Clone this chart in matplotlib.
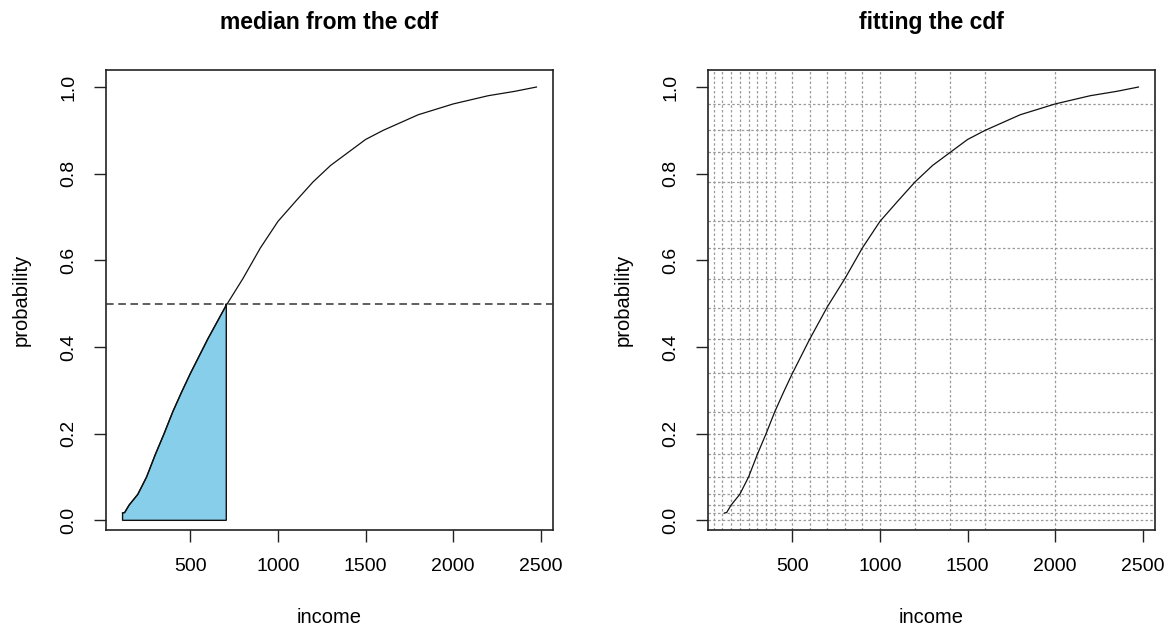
import numpy as np
import matplotlib
matplotlib.use('Agg')
from matplotlib import pyplot as plt

plt.rcParams['font.family'] = ['Liberation Sans', 'DejaVu Sans']

# fitted cdf curve
income = [113, 125, 150, 200, 250, 300, 350, 400, 450, 500, 600, 700, 800, 900,
          1000, 1100, 1200, 1300, 1400, 1500, 1600, 1800, 2000, 2200, 2350, 2475]
prob = [0.017, 0.018, 0.035, 0.060, 0.100, 0.152, 0.200, 0.251, 0.296, 0.339,
        0.419, 0.493, 0.558, 0.629, 0.690, 0.736, 0.781, 0.819, 0.849, 0.879,
        0.900, 0.936, 0.961, 0.980, 0.990, 1.000]

# median of the distribution
median_income = 705
median_prob = 0.5

# table breaks and cumulative probabilities (grid in the right panel)
breaks = [50, 100, 150, 200, 250, 300, 350, 400, 500, 600, 700, 800, 900, 1000,
          1200, 1400, 1600, 2000]
cum_prob = [0.0, 0.0176, 0.035, 0.060, 0.100, 0.152, 0.200, 0.251, 0.339, 0.419,
            0.490, 0.558, 0.629, 0.690, 0.781, 0.849, 0.900, 0.961]

x_ticks = [500, 1000, 1500, 2000, 2500]
y_ticks = [0.0, 0.2, 0.4, 0.6, 0.8, 1.0]


def r_limits(vals):
    lo, hi = min(vals), max(vals)
    pad = 0.04 * (hi - lo)
    return lo - pad, hi + pad


def style_axes(ax, title):
    ax.set_xlim(*r_limits(income))
    ax.set_ylim(*r_limits(prob))
    ax.set_xticks(x_ticks)
    ax.set_yticks(y_ticks)
    ax.set_yticklabels(['%.1f' % v for v in y_ticks], rotation=90, va='center')
    ax.tick_params(axis='both', direction='out', length=8.5, width=1.0,
                   labelsize=14, color='#222222')
    ax.tick_params(axis='x', pad=12)
    ax.tick_params(axis='y', pad=12)
    for s in ax.spines.values():
        s.set_linewidth(1.2)
        s.set_color('#222222')
    ax.set_xlabel('income', fontsize=14.5)
    ax.set_ylabel('probability', fontsize=14.5)
    ax.xaxis.label.set_va('center')
    ax.yaxis.label.set_va('center')
    ax.xaxis.set_label_coords(0.5, -0.191)
    ax.yaxis.set_label_coords(-0.190, 0.5)
    ax.set_title(title, fontsize=16.5, fontweight='bold', y=1.104, va='center', pad=0)


fig = plt.figure(figsize=(11.67, 6.27), dpi=100)
ax1 = fig.add_axes([106 / 1167, 1 - 530 / 627, 447 / 1167, 460 / 627])
ax2 = fig.add_axes([708 / 1167, 1 - 530 / 627, 447 / 1167, 460 / 627])

# left: median from the cdf
below = [(x, y) for x, y in zip(income, prob) if x < median_income]
poly_x = [income[0]] + [p[0] for p in below] + [median_income, median_income]
poly_y = [0.0] + [p[1] for p in below] + [median_prob, 0.0]
ax1.fill(poly_x, poly_y, facecolor='#87CEEB', edgecolor='#111111', linewidth=1.0, zorder=2)
ax1.plot(income, prob, color='#111111', linewidth=0.9, zorder=3)
ax1.axhline(median_prob, color='#333333', linestyle=(0, (5, 3)), linewidth=1.1, zorder=3)
style_axes(ax1, 'median from the cdf')

# right: fitting the cdf
for b in breaks:
    ax2.axvline(b, color='#9a9a9a', linestyle=(0, (2, 1.8)), linewidth=0.9, zorder=1)
for c in cum_prob:
    ax2.axhline(c, color='#9a9a9a', linestyle=(0, (2, 1.8)), linewidth=0.9, zorder=1)
ax2.plot(income, prob, color='#111111', linewidth=0.9, zorder=3)
style_axes(ax2, 'fitting the cdf')

fig.savefig('out.png', dpi=100)
